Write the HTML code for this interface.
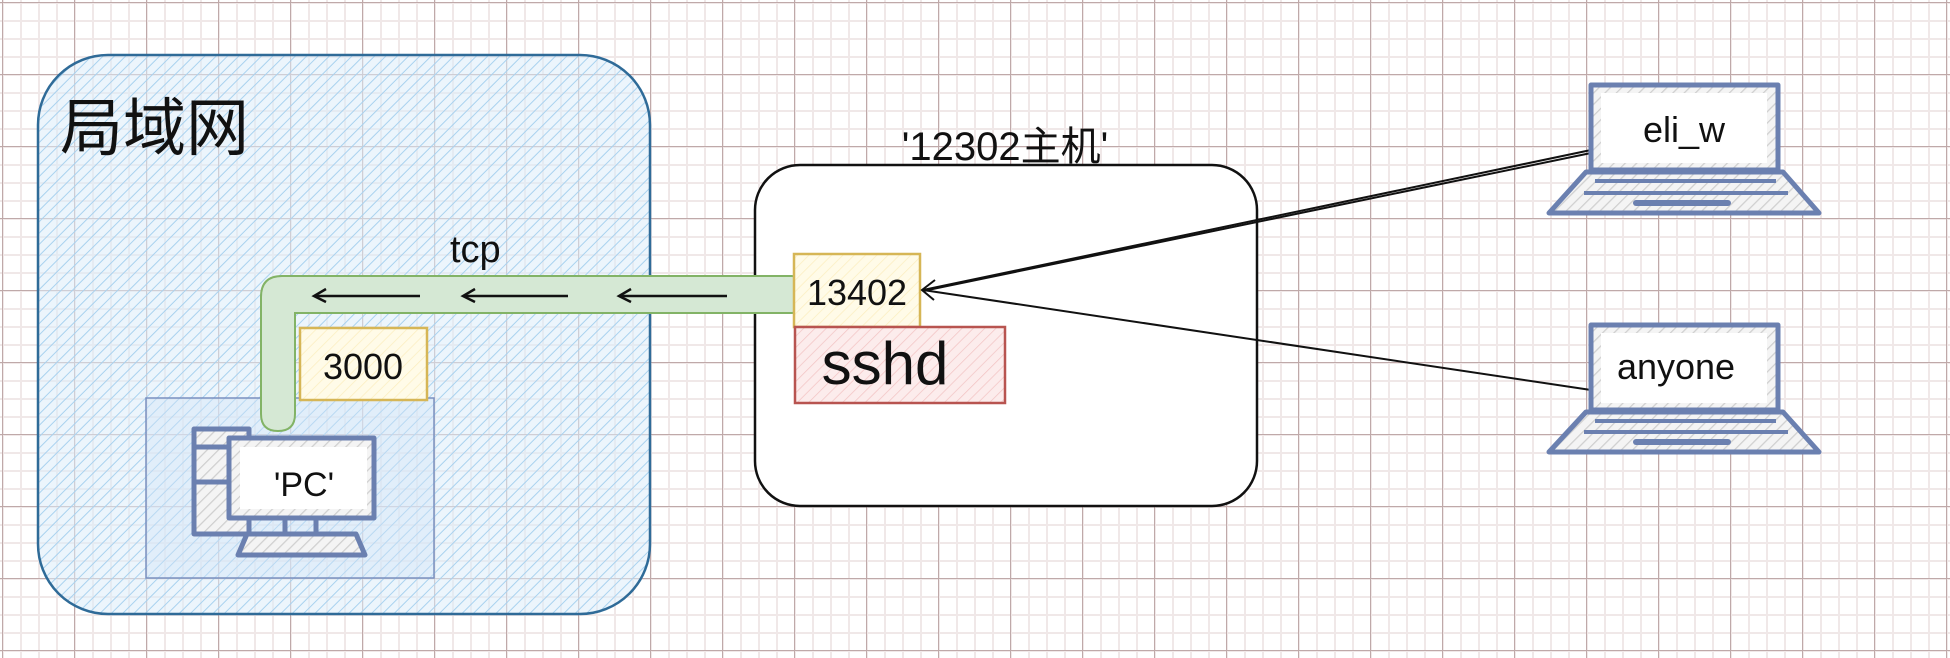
<!DOCTYPE html>
<html><head><meta charset="utf-8"><style>
html,body{margin:0;padding:0;}
body{width:1950px;height:658px;overflow:hidden;background:#fff;
background-image:
linear-gradient(to right,#bfa9a9 1px,transparent 1px),
linear-gradient(to bottom,#bfa9a9 1px,transparent 1px),
linear-gradient(to right,#f0e8e8 2px,transparent 2px),
linear-gradient(to bottom,#f0e8e8 2px,transparent 2px);
background-size:72px 72px,72px 72px,18px 18px,18px 18px;
background-position:2px 2px,2px 2px,2px 2px,2px 2px;}
svg{position:absolute;left:0;top:0;}
text{font-family:"Liberation Sans","Noto Sans CJK SC",sans-serif;fill:#111;}
</style></head><body>
<svg width="1950" height="658" viewBox="0 0 1950 658">
<defs>
<pattern id="hb" width="8" height="8" patternUnits="userSpaceOnUse" patternTransform="rotate(45)">
<rect width="8" height="8" fill="rgba(220,236,250,0.55)"/><line x1="0" y1="0" x2="0" y2="8" stroke="#a9d2ef" stroke-width="2"/></pattern>
<pattern id="hy" width="8" height="8" patternUnits="userSpaceOnUse" patternTransform="rotate(45)">
<rect width="8" height="8" fill="#fffbe8"/><line x1="0" y1="0" x2="0" y2="8" stroke="#fbeec0" stroke-width="1.5"/></pattern>
<pattern id="hr" width="8" height="8" patternUnits="userSpaceOnUse" patternTransform="rotate(45)">
<rect width="8" height="8" fill="#fcecec"/><line x1="0" y1="0" x2="0" y2="8" stroke="#f2c4c4" stroke-width="1.5"/></pattern>
<pattern id="hg" width="8" height="8" patternUnits="userSpaceOnUse" patternTransform="rotate(45)">
<rect width="8" height="8" fill="#f4f4f4"/><line x1="0" y1="0" x2="0" y2="8" stroke="#cfcfcf" stroke-width="2.5"/></pattern>
</defs>

<!-- LAN box -->
<rect x="38" y="55" width="612" height="559" rx="70" fill="url(#hb)" stroke="#2f6b98" stroke-width="2.5"/>
<text x="60" y="150" font-size="63">局域网</text>

<!-- PC box -->
<rect x="146" y="398" width="288" height="180" fill="rgba(210,228,248,0.4)" stroke="#7a90c0" stroke-width="1.5"/>

<!-- 3000 -->
<rect x="300" y="328" width="127" height="72" fill="url(#hy)" stroke="#d6b656" stroke-width="2.5"/>
<text x="363" y="379" font-size="36" text-anchor="middle">3000</text>

<!-- host -->
<rect x="755" y="165" width="502" height="341" rx="45" fill="#fff" stroke="#111" stroke-width="2.5"/>
<text x="1005" y="160" font-size="40" text-anchor="middle">'12302主机'</text>

<!-- pipe -->
<path d="M792 276 L282 276 Q261 276 261 297 L261 414 Q261 431 278 431 Q295 431 295 414 L295 313 L792 313 Q800 313 800 295 Q800 276 792 276 Z" fill="#d5e8d4" stroke="#82b366" stroke-width="2"/>
<g stroke="#111" stroke-width="2.5" fill="none">
<line x1="314" y1="296" x2="420" y2="296"/><path d="M326 289 L314 296 L326 302"/>
<line x1="463" y1="296" x2="568" y2="296"/><path d="M475 289 L463 296 L475 302"/>
<line x1="619" y1="296" x2="727" y2="296"/><path d="M631 289 L619 296 L631 302"/>
</g>
<text x="450" y="262" font-size="38">tcp</text>

<!-- PC icon -->
<g stroke="#6b80b0" stroke-width="5" stroke-linejoin="round">
<rect x="194" y="429" width="55" height="105" fill="url(#hg)"/>
<line x1="196" y1="447" x2="228" y2="447"/><line x1="196" y1="482" x2="228" y2="482"/>
<rect x="229" y="438" width="145" height="80" fill="url(#hg)"/>
<line x1="285" y1="518" x2="285" y2="533"/><line x1="316" y1="518" x2="316" y2="533"/>
<path d="M247 534 L356 534 L365 555 L238 555 Z" fill="url(#hg)"/>
</g>
<rect x="240" y="447" width="127" height="62" fill="#fff"/>
<text x="304" y="496" font-size="34" text-anchor="middle">'PC'</text>

<rect x="794" y="254" width="126" height="73" fill="url(#hy)" stroke="#d6b656" stroke-width="2.5"/>
<text x="857" y="305" font-size="36" text-anchor="middle">13402</text>
<rect x="795" y="327" width="210" height="76" fill="url(#hr)" stroke="#b85450" stroke-width="2.5"/>
<text x="885" y="384" font-size="60" text-anchor="middle">sshd</text>

<!-- connectors -->
<g stroke="#111" stroke-width="2" fill="none">
<line x1="1591" y1="150" x2="923" y2="290"/>
<line x1="1591" y1="153" x2="923" y2="291"/>
<line x1="1591" y1="390" x2="923" y2="290"/>
<path d="M935 280 L922 290 L934 300"/>
</g>

<!-- laptops -->
<g stroke="#6b80b0" stroke-width="5" stroke-linejoin="round">
<rect x="1591" y="85" width="187" height="85" fill="url(#hg)"/>
<path d="M1586 172 L1783 172 L1819 213 L1549 213 Z" fill="url(#hg)"/>
<line x1="1595" y1="181" x2="1776" y2="181" stroke-width="4"/>
<line x1="1584" y1="193" x2="1788" y2="193" stroke-width="4"/>
<line x1="1636" y1="203" x2="1728" y2="203" stroke-width="6" stroke-linecap="round"/>
<rect x="1591" y="325" width="187" height="85" fill="url(#hg)"/>
<path d="M1586 412 L1783 412 L1819 452 L1549 452 Z" fill="url(#hg)"/>
<line x1="1595" y1="421" x2="1776" y2="421" stroke-width="4"/>
<line x1="1584" y1="432" x2="1788" y2="432" stroke-width="4"/>
<line x1="1636" y1="442" x2="1728" y2="442" stroke-width="6" stroke-linecap="round"/>
</g>
<rect x="1601" y="93" width="166" height="70" fill="#fff"/>
<rect x="1601" y="333" width="166" height="70" fill="#fff"/>
<text x="1684" y="142" font-size="36" text-anchor="middle">eli_w</text>
<text x="1676" y="379" font-size="36" text-anchor="middle">anyone</text>
</svg>
</body></html>
